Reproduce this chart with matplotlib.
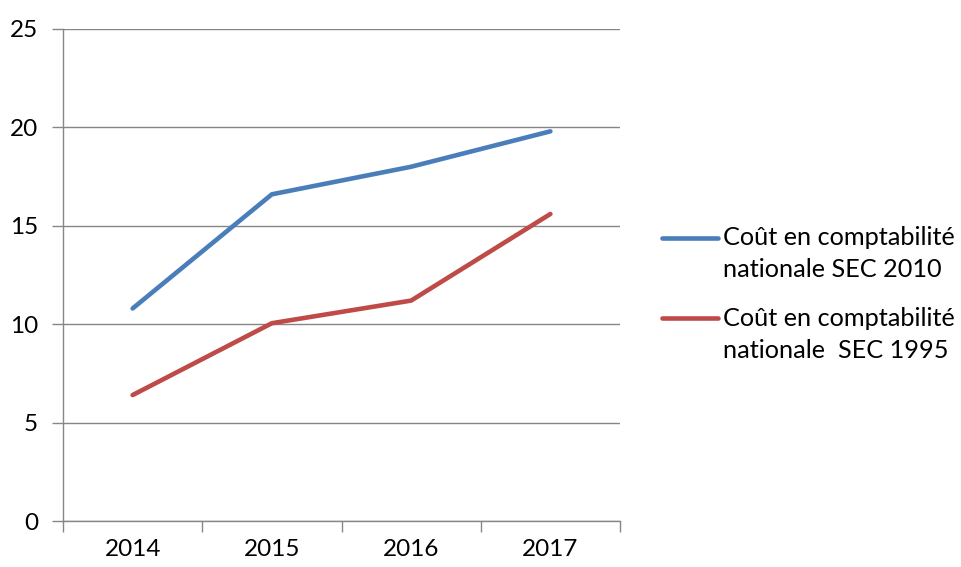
import matplotlib.pyplot as plt
import numpy as np

years = ["2014", "2015", "2016", "2017"]
sec_2010 = [10.8, 16.6, 18.0, 19.8]
sec_1995 = [6.4, 10.05, 11.2, 15.6]
labels = ["Coût en comptabilité\nnationale SEC 2010",
          "Coût en comptabilité\nnationale  SEC 1995"]

plt.rcParams["font.family"] = ["Lato", "DejaVu Sans"]

fig = plt.figure(figsize=(9.62, 5.67), dpi=100)
ax = fig.add_axes([0.0655, 0.0811, 0.579, 0.8678])

x = np.arange(len(years))
ax.plot(x, sec_2010, color="#4A7EBB", lw=3.3, solid_capstyle="round", label=labels[0])
ax.plot(x, sec_1995, color="#BE4B48", lw=3.3, solid_capstyle="round", label=labels[1])

ax.set_xlim(-0.5, len(years) - 0.5)
ax.set_ylim(0, 25)
ax.set_yticks(range(0, 26, 5))
ax.set_xticks(x)
ax.set_xticklabels(years)
ax.set_xticks(np.arange(-0.5, len(years), 1.0), minor=True)
ax.tick_params(axis="x", which="major", length=0, pad=13, labelsize=17.5)
ax.tick_params(axis="x", which="minor", length=8, width=1, color="#868686")
ax.tick_params(axis="y", length=8, width=1, color="#868686", pad=10, labelsize=17.5)

ax.grid(axis="y", color="#868686", lw=1)
ax.set_axisbelow(True)
for s in ["top", "right"]:
    ax.spines[s].set_visible(False)
for s in ["left", "bottom"]:
    ax.spines[s].set_color("#868686")
    ax.spines[s].set_linewidth(1)

leg = fig.legend(loc="center left", bbox_to_anchor=(0.664, 0.4815), frameon=False,
                 fontsize=18.2, handlelength=2.25, handletextpad=0.18, labelspacing=1.0)
for t in leg.get_texts():
    t.set_linespacing(1.5)
# handle sits on the first text line, like Excel
for ln in leg.get_lines():
    ln.set_ydata(np.asarray(ln.get_ydata()) + 12.0)

fig.savefig("out.png", dpi=100)
